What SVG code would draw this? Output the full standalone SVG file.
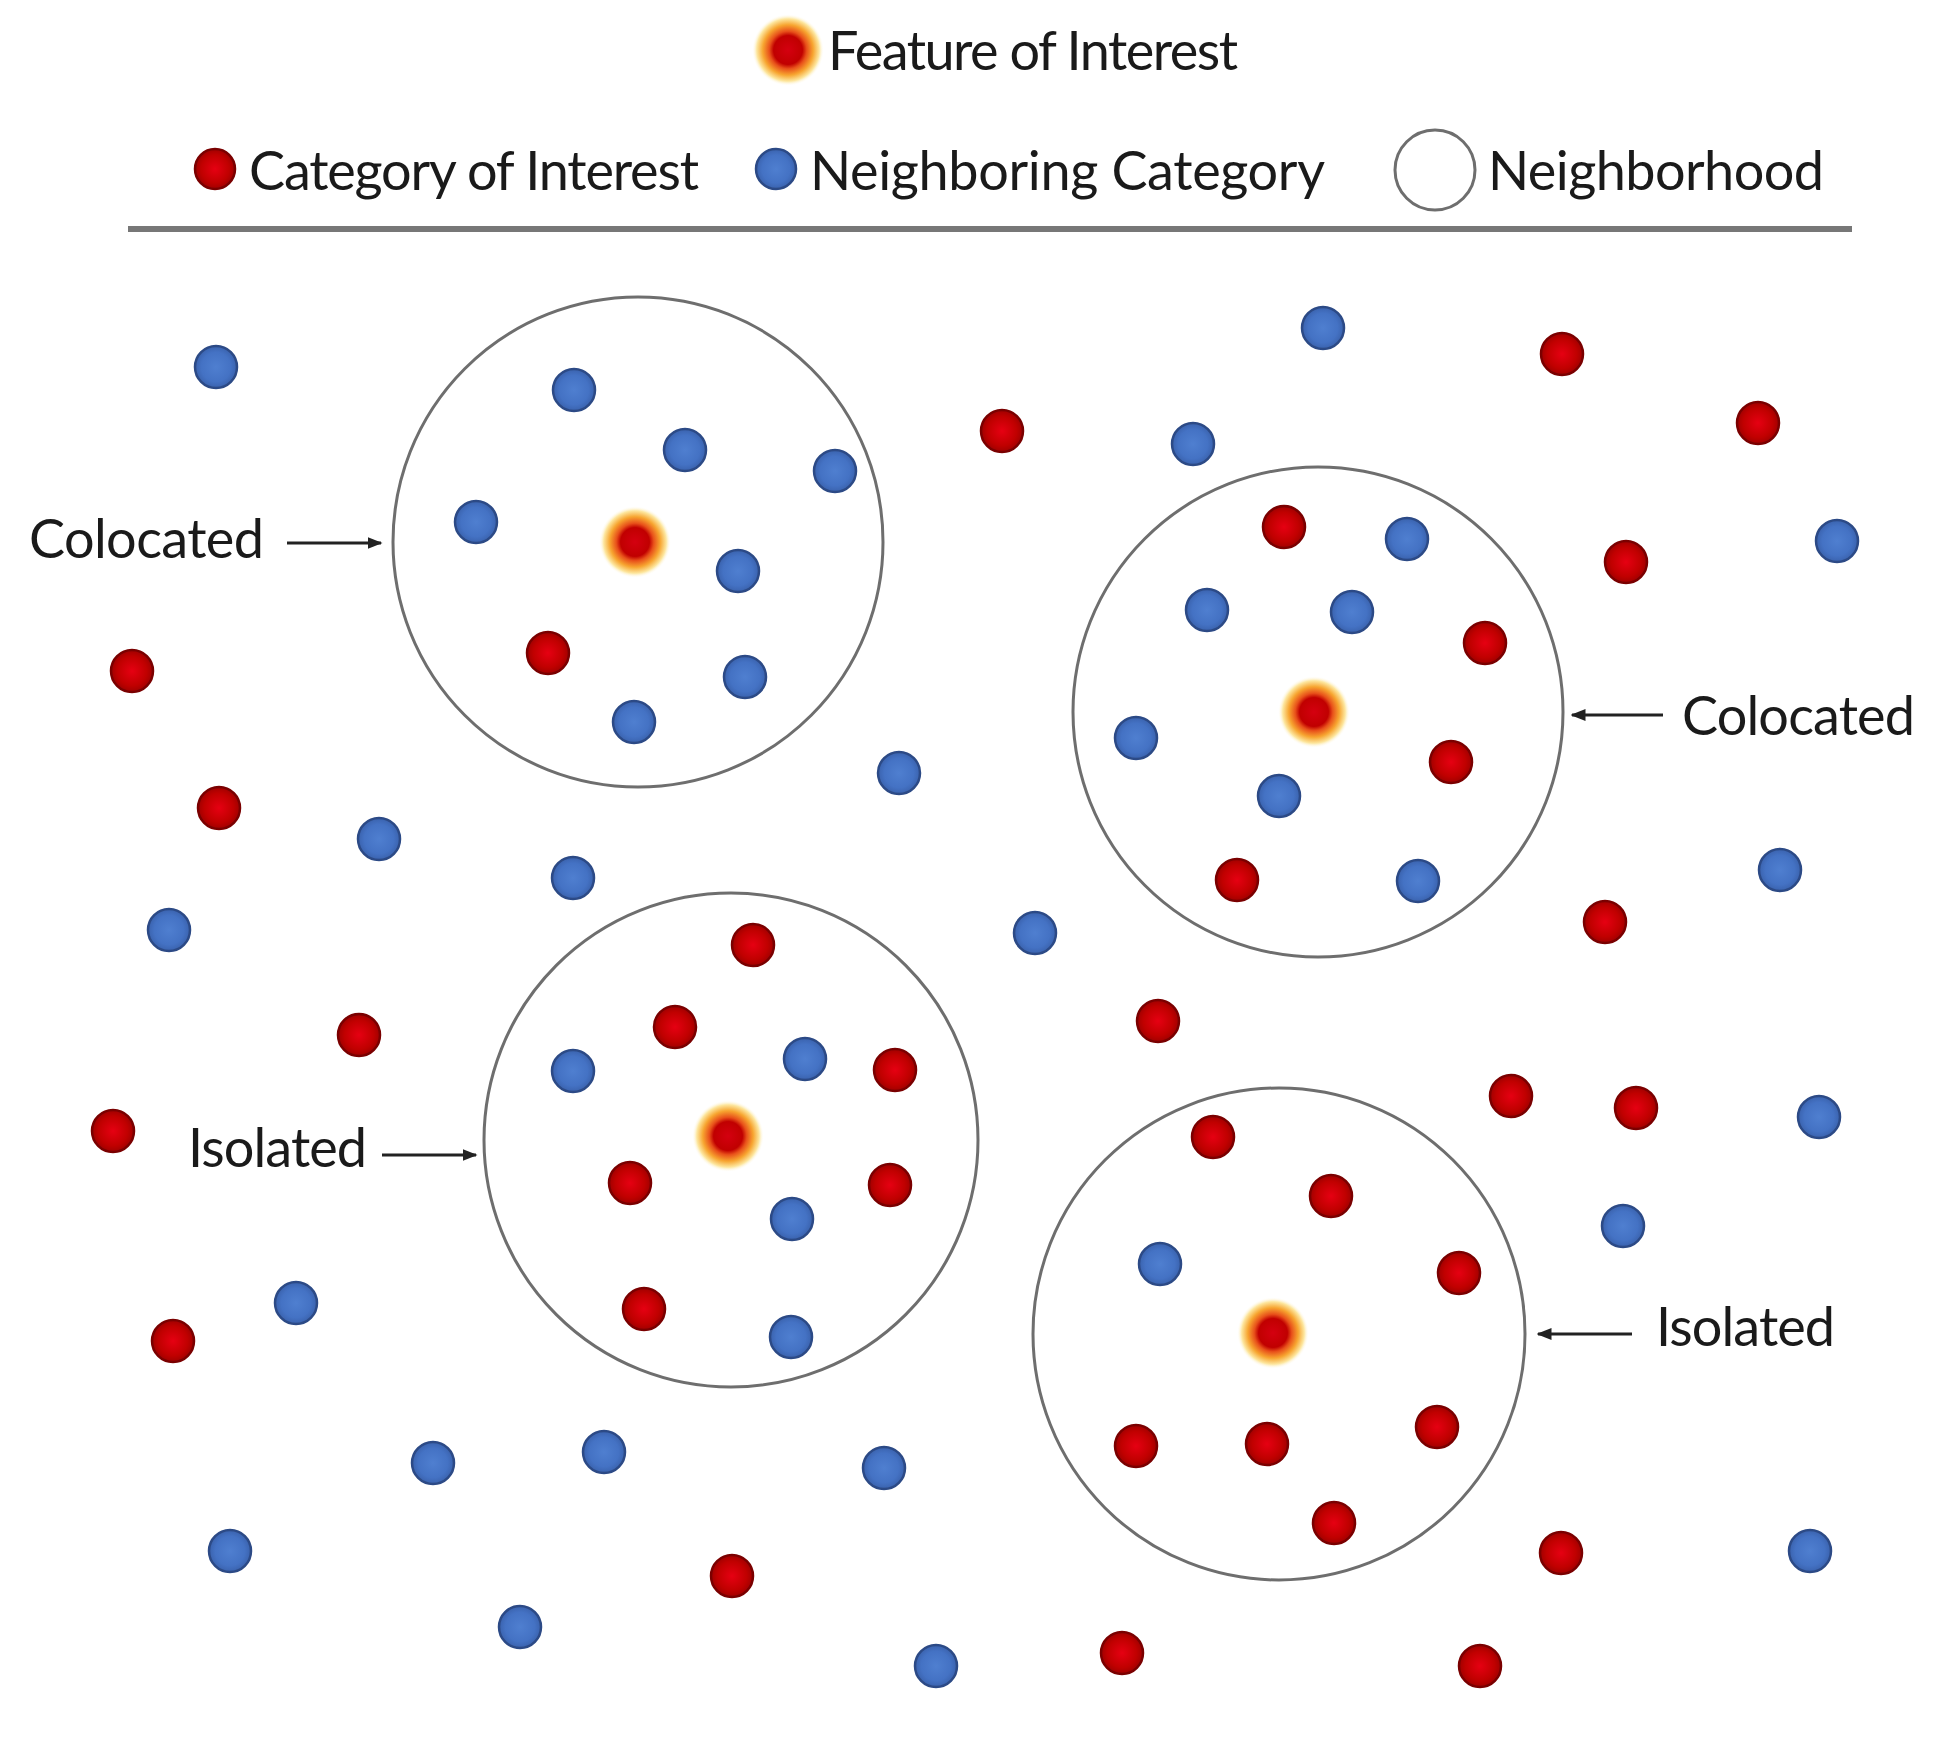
<svg xmlns="http://www.w3.org/2000/svg" width="1949" height="1744" viewBox="0 0 1949 1744">
<style>
.t{font-family:Lato,"Liberation Sans",sans-serif;font-size:54px;fill:#1a1a1a}
.r{fill:url(#rg);stroke:#7a0000;stroke-width:2.5}
.b{fill:url(#bg);stroke:#2c4a86;stroke-width:2.5}
.nb{fill:none;stroke:#6e6e6e;stroke-width:3}
.cn{stroke:#222;stroke-width:3;fill:none;marker-end:url(#ah)}
</style>
<defs>
<radialGradient id="rg"><stop offset="0" stop-color="#e60012"/><stop offset="0.7" stop-color="#c00000"/><stop offset="1" stop-color="#a00000"/></radialGradient>
<radialGradient id="bg"><stop offset="0" stop-color="#4f7fd0"/><stop offset="0.7" stop-color="#4472c4"/><stop offset="1" stop-color="#3a62ad"/></radialGradient>
<radialGradient id="glow"><stop offset="0" stop-color="#d40010"/><stop offset="0.4" stop-color="#c00000"/><stop offset="0.52" stop-color="#e8501a"/><stop offset="0.7" stop-color="#f7a530"/><stop offset="0.87" stop-color="#fde7a0"/><stop offset="1" stop-color="#ffffff" stop-opacity="0"/></radialGradient>
<marker id="ah" viewBox="0 0 10 10" refX="9" refY="5" markerWidth="15" markerHeight="12" orient="auto" markerUnits="userSpaceOnUse" preserveAspectRatio="none"><path d="M0,0 L10,5 L0,10 z" fill="#222"/></marker>
<symbol id="foi" overflow="visible"><circle r="36" fill="url(#glow)"/></symbol>
</defs>
<rect width="1949" height="1744" fill="#fff"/>

<g id="legend">
<g id="legend-foi"><use href="#foi" x="788" y="50"/><text class="t" x="828" y="70" textLength="410">Feature of Interest</text></g>
<g id="legend-cat"><circle class="r" cx="215" cy="169" r="20"/><text class="t" x="249" y="190" textLength="450">Category of Interest</text></g>
<g id="legend-nb"><circle class="b" cx="776" cy="169" r="20"/><text class="t" x="810" y="190" textLength="515">Neighboring Category</text></g>
<g id="legend-hood"><circle class="nb" cx="1435" cy="170" r="40"/><text class="t" x="1488" y="190" textLength="336">Neighborhood</text></g>
<line x1="128" y1="229" x2="1852" y2="229" stroke="#777" stroke-width="6"/>
</g>

<g id="neighborhoods">
<circle id="n1" class="nb" cx="638" cy="542" r="245"/>
<circle id="n2" class="nb" cx="1318" cy="712" r="245"/>
<circle id="n3" class="nb" cx="731" cy="1140" r="247"/>
<circle id="n4" class="nb" cx="1279" cy="1334" r="246"/>
</g>

<g id="blue">
<circle class="b" cx="216" cy="367" r="21"/>
<circle class="b" cx="574" cy="390" r="21"/>
<circle class="b" cx="685" cy="450" r="21"/>
<circle class="b" cx="835" cy="471" r="21"/>
<circle class="b" cx="476" cy="522" r="21"/>
<circle class="b" cx="738" cy="571" r="21"/>
<circle class="b" cx="745" cy="677" r="21"/>
<circle class="b" cx="634" cy="722" r="21"/>
<circle class="b" cx="899" cy="773" r="21"/>
<circle class="b" cx="379" cy="839" r="21"/>
<circle class="b" cx="573" cy="878" r="21"/>
<circle class="b" cx="169" cy="930" r="21"/>
<circle class="b" cx="1035" cy="933" r="21"/>
<circle class="b" cx="1323" cy="328" r="21"/>
<circle class="b" cx="1193" cy="444" r="21"/>
<circle class="b" cx="1407" cy="539" r="21"/>
<circle class="b" cx="1837" cy="541" r="21"/>
<circle class="b" cx="1207" cy="610" r="21"/>
<circle class="b" cx="1352" cy="612" r="21"/>
<circle class="b" cx="1136" cy="738" r="21"/>
<circle class="b" cx="1279" cy="796" r="21"/>
<circle class="b" cx="1418" cy="881" r="21"/>
<circle class="b" cx="1780" cy="870" r="21"/>
<circle class="b" cx="573" cy="1071" r="21"/>
<circle class="b" cx="805" cy="1059" r="21"/>
<circle class="b" cx="792" cy="1219" r="21"/>
<circle class="b" cx="791" cy="1337" r="21"/>
<circle class="b" cx="296" cy="1303" r="21"/>
<circle class="b" cx="433" cy="1463" r="21"/>
<circle class="b" cx="604" cy="1452" r="21"/>
<circle class="b" cx="884" cy="1468" r="21"/>
<circle class="b" cx="230" cy="1551" r="21"/>
<circle class="b" cx="520" cy="1627" r="21"/>
<circle class="b" cx="936" cy="1666" r="21"/>
<circle class="b" cx="1819" cy="1117" r="21"/>
<circle class="b" cx="1623" cy="1226" r="21"/>
<circle class="b" cx="1160" cy="1264" r="21"/>
<circle class="b" cx="1810" cy="1551" r="21"/>
</g>

<g id="red">
<circle class="r" cx="1002" cy="431" r="21"/>
<circle class="r" cx="1562" cy="354" r="21"/>
<circle class="r" cx="1758" cy="423" r="21"/>
<circle class="r" cx="1626" cy="562" r="21"/>
<circle class="r" cx="1284" cy="527" r="21"/>
<circle class="r" cx="1485" cy="643" r="21"/>
<circle class="r" cx="1451" cy="762" r="21"/>
<circle class="r" cx="1237" cy="880" r="21"/>
<circle class="r" cx="132" cy="671" r="21"/>
<circle class="r" cx="548" cy="653" r="21"/>
<circle class="r" cx="219" cy="808" r="21"/>
<circle class="r" cx="1605" cy="922" r="21"/>
<circle class="r" cx="753" cy="945" r="21"/>
<circle class="r" cx="675" cy="1027" r="21"/>
<circle class="r" cx="895" cy="1070" r="21"/>
<circle class="r" cx="1158" cy="1021" r="21"/>
<circle class="r" cx="359" cy="1035" r="21"/>
<circle class="r" cx="113" cy="1131" r="21"/>
<circle class="r" cx="630" cy="1183" r="21"/>
<circle class="r" cx="890" cy="1185" r="21"/>
<circle class="r" cx="644" cy="1309" r="21"/>
<circle class="r" cx="173" cy="1341" r="21"/>
<circle class="r" cx="1511" cy="1096" r="21"/>
<circle class="r" cx="1636" cy="1108" r="21"/>
<circle class="r" cx="1213" cy="1137" r="21"/>
<circle class="r" cx="1331" cy="1196" r="21"/>
<circle class="r" cx="1459" cy="1273" r="21"/>
<circle class="r" cx="1136" cy="1446" r="21"/>
<circle class="r" cx="1267" cy="1444" r="21"/>
<circle class="r" cx="1437" cy="1427" r="21"/>
<circle class="r" cx="1334" cy="1523" r="21"/>
<circle class="r" cx="1561" cy="1553" r="21"/>
<circle class="r" cx="732" cy="1576" r="21"/>
<circle class="r" cx="1122" cy="1653" r="21"/>
<circle class="r" cx="1480" cy="1666" r="21"/>
</g>

<g id="features">
<use id="f1" href="#foi" x="635" y="542"/>
<use id="f2" href="#foi" x="1314" y="712"/>
<use id="f3" href="#foi" x="728" y="1136"/>
<use id="f4" href="#foi" x="1273" y="1333"/>
</g>

<g id="labels">
<g id="lab1"><text class="t" x="29" y="558" textLength="235">Colocated</text></g>
<g id="lab2"><text class="t" x="1682" y="735" textLength="233">Colocated</text></g>
<g id="lab3"><text class="t" x="188" y="1167" textLength="179">Isolated</text></g>
<g id="lab4"><text class="t" x="1656" y="1346" textLength="179">Isolated</text></g>
</g>

<g id="connectors">
<line class="cn" x1="287" y1="543" x2="381" y2="543"/>
<line class="cn" x1="1663" y1="715" x2="1572" y2="715"/>
<line class="cn" x1="382" y1="1155" x2="476" y2="1155"/>
<line class="cn" x1="1632" y1="1334" x2="1538" y2="1334"/>
</g>
</svg>
